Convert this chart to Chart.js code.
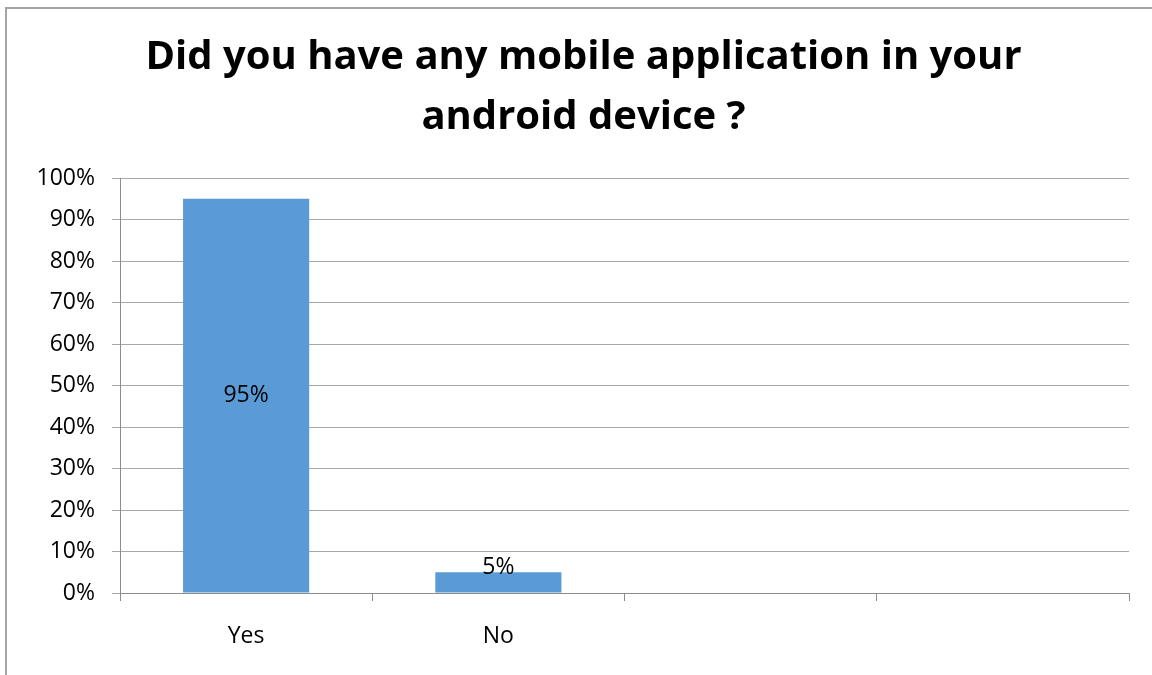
<!DOCTYPE html>
<html><head><meta charset="utf-8">
<script src="https://cdn.jsdelivr.net/npm/chart.js@4"></script>
<style>
html,body{margin:0;padding:0;background:#fff;}
#wrap{position:relative;width:1152px;height:675px;overflow:hidden;}
#frame{position:absolute;left:5px;top:7px;width:1200px;height:700px;border-left:2px solid #a6a6a6;border-top:2px solid #a6a6a6;box-sizing:border-box;pointer-events:none;}
canvas{position:absolute;left:0;top:0;}
</style></head>
<body><div id="wrap"><div id="frame"></div><canvas id="c" width="1152" height="675"></canvas></div>
<script>
const categories = ["Yes", "No", "", ""];
const values = [95, 5, null, null];
const yTicks = [0,10,20,30,40,50,60,70,80,90,100];
const titleLines = ["Did you have any mobile application in your", "android device ?"];
const FONT = "'Open Sans', 'Liberation Sans', sans-serif";

const labelPlugin = {
  id: 'barLabels',
  afterDatasetsDraw(chart) {
    const ctx = chart.ctx;
    const meta = chart.getDatasetMeta(0);
    ctx.save();
    ctx.font = "23px " + FONT;
    ctx.fillStyle = "#000";
    ctx.textAlign = "center";
    ctx.textBaseline = "middle";
    meta.data.forEach((bar, i) => {
      const v = values[i];
      if (v == null) return;
      const top = bar.y, base = bar.base;
      let y = (top + base) / 2;
      if (base - top < 30) y = base - 25;
      ctx.fillText(v + "%", bar.x, y);
    });
    ctx.restore();
  }
};

new Chart(document.getElementById('c'), {
  type: 'bar',
  data: {
    labels: categories,
    datasets: [{ data: values, backgroundColor: '#5B9BD5', barPercentage: 0.5, categoryPercentage: 1.0 }]
  },
  options: {
    responsive: false,
    animation: false,
    layout: { padding: { left: 38, right: 23, top: 0, bottom: 0 } },
    plugins: {
      legend: { display: false },
      tooltip: { enabled: false },
      title: {
        display: true,
        text: titleLines,
        color: '#000',
        font: { family: FONT, size: 40, weight: 'bold', lineHeight: 1.5 },
        padding: { top: 28, bottom: 30 }
      }
    },
    scales: {
      x: {
        offset: true,
        afterFit(scale) { scale.height = 82; },
        grid: { display: true, drawOnChartArea: false, offset: true, tickLength: 8, color: '#8c8c8c' },
        border: { display: true, color: '#8c8c8c' },
        ticks: { color: '#000', font: { family: FONT, size: 23 }, padding: 22 }
      },
      y: {
        min: 0, max: 100,
        afterFit(scale) { scale.width = 82; },
        afterBuildTicks(scale) { scale.ticks = yTicks.map(v => ({ value: v })); },
        grid: { color: '#a8a8a8', tickLength: 8 },
        border: { display: true, color: '#8c8c8c' },
        ticks: { color: '#000', font: { family: FONT, size: 23 }, padding: 17, callback: v => v + '%' }
      }
    }
  },
  plugins: [labelPlugin]
});
</script></body></html>
